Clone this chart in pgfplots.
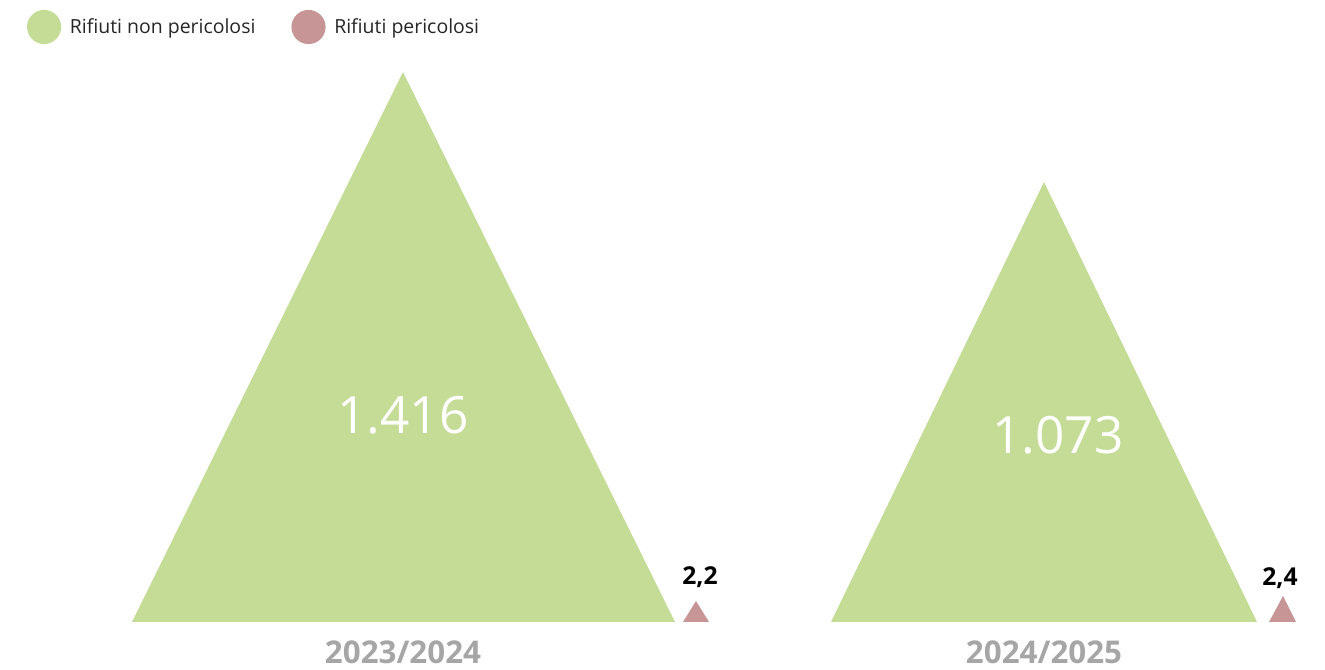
\documentclass[border=0pt]{standalone}
\usepackage{pgfplots}
\pgfplotsset{compat=1.18}
\usepackage{fontspec}
\setmainfont{Open Sans}
\definecolor{nonper}{RGB}{197,220,150}
\definecolor{per}{RGB}{199,149,149}
\definecolor{yeargray}{RGB}{166,166,166}
\begin{document}
\begin{tikzpicture}
\begin{axis}[
  scale only axis,
  width=993.75pt, height=502.5pt,
  xmin=0, xmax=1325, ymin=-48, ymax=622,
  hide axis, clip=false,
  legend columns=-1,
  legend image code/.code={\fill[#1,draw=none] (12.5pt,0pt) circle (12.8pt);},
  legend style={draw=none, fill=none, inner sep=0pt, outer sep=0pt,
    at={(0.0204,0.9597)}, anchor=west,
    font=\fontsize{14.6}{17}\selectfont,
    nodes={inner sep=0pt, text=black!85},
    /tikz/every odd column/.append style={column sep=6.5pt},
    /tikz/every even column/.append style={column sep=27pt}},
]
\path (rel axis cs:0,0) rectangle (rel axis cs:1,1);
% Rifiuti non pericolosi (triangle vertices, base at y=0)
\addplot[fill=nonper, draw=none] coordinates {(132,0) (403,550) (675,0)};
\addlegendentry{Rifiuti non pericolosi}
\addplot[fill=per, draw=none] coordinates {(683,0) (696,21) (709,0)};
\addlegendentry{Rifiuti pericolosi}
\addplot[fill=nonper, draw=none, forget plot] coordinates {(831,0) (1044,440) (1257,0)};
\addplot[fill=per, draw=none, forget plot] coordinates {(1269,0) (1283,26) (1296,0)};
% value labels
\node[text=white, font=\fontsize{38.5}{44}\selectfont] at (axis cs:403,207) {1.416};
\node[text=white, font=\fontsize{38.5}{44}\selectfont] at (axis cs:1058,187) {1.073};
\node[text=black, font=\bfseries\fontsize{18.5}{22}\selectfont] at (axis cs:700,45) {2,2};
\node[text=black, font=\bfseries\fontsize{18.5}{22}\selectfont] at (axis cs:1280,44) {2,4};
% category labels
\node[text=yeargray, font=\bfseries\fontsize{23.5}{27}\selectfont] at (axis cs:403,-30) {2023/2024};
\node[text=yeargray, font=\bfseries\fontsize{23.5}{27}\selectfont] at (axis cs:1044,-30) {2024/2025};
\end{axis}
\end{tikzpicture}
\end{document}
